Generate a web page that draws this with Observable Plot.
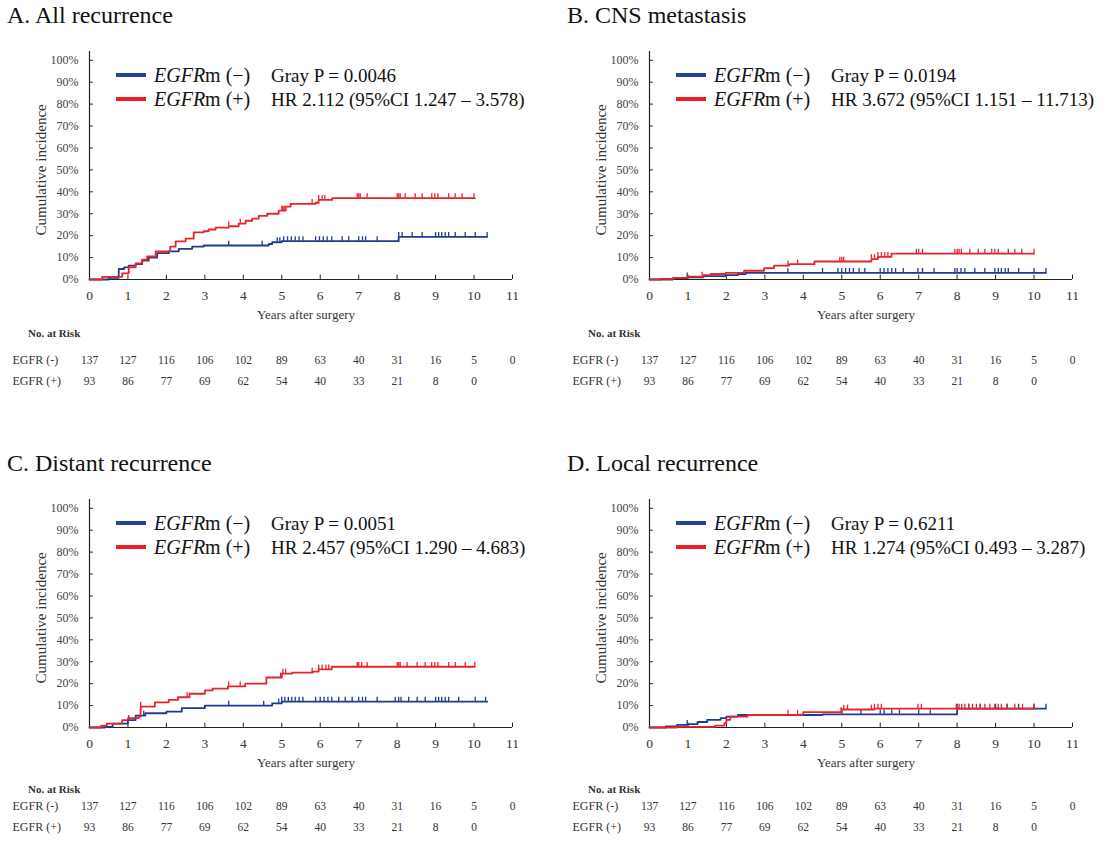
<!DOCTYPE html>
<html><head><meta charset="utf-8">
<script src="https://cdn.jsdelivr.net/npm/d3@7"></script>
<script src="https://cdn.jsdelivr.net/npm/@observablehq/plot@0.6"></script>
<style>
body{margin:0;background:#fff;}
#fig{position:relative;width:1103px;height:841px;overflow:hidden;background:#fff;font-family:"Liberation Serif","Times New Roman",serif;color:#111;}
.t{position:absolute;white-space:nowrap;line-height:1;transform:translateY(-50%);}
.sw{position:absolute;width:30px;height:4px;}
#fig svg{position:absolute;}
</style></head><body><div id="fig"></div>
<script>
// ---- tick labels ----
const years = [0,1,2,3,4,5,6,7,8,9,10,11];
const pctTicks = [0,10,20,30,40,50,60,70,80,90,100];
const riskRowNames = ["EGFR (-)", "EGFR (+)"];
// ---- number at risk ----
const riskNeg = [137,127,116,106,102,89,63,40,31,16,5,0];
const riskPos = [93,86,77,69,62,54,40,33,21,8,0];

// ---- A. All recurrence: [years, cumulative incidence %] ----
const allNeg = [[0,0],[0.5,0.8],[0.76,4.8],[0.9,5.5],[1.02,6.3],[1.2,7.0],[1.37,8.6],[1.54,10.0],[1.76,12.0],[2.06,12.8],[2.32,14.0],[2.67,15.0],[2.97,15.5],[4.66,16.2],[4.75,17.0],[5.0,17.5],[8.04,19.4],[10.34,19.4]];
const allPos = [[0,0],[0.33,1.2],[0.85,2.8],[1.02,5.5],[1.2,7.4],[1.37,9.0],[1.5,10.5],[1.72,12.8],[2.1,15.0],[2.24,17.4],[2.5,18.6],[2.71,21.5],[2.97,22.0],[3.1,22.8],[3.28,23.7],[3.62,24.3],[3.88,25.5],[4.06,26.8],[4.23,27.8],[4.4,29.0],[4.62,30.0],[4.92,31.4],[5.1,33.2],[5.23,34.5],[5.88,35.0],[5.96,36.3],[6.31,37.1],[10.02,37.1]];
const allNegCens = [3.62,4.49,4.88,4.95,5.05,5.15,5.25,5.35,5.45,5.55,5.88,5.98,6.08,6.18,6.3,6.57,6.74,7.0,7.1,7.18,7.48,8.04,8.13,8.39,8.65,9.0,9.08,9.16,9.25,9.34,9.51,9.77,10.03,10.34];
const allPosCens = [3.62,3.92,5.0,5.03,5.06,5.79,5.96,6.05,6.12,6.96,7.0,7.04,7.22,8.0,8.04,8.08,8.21,8.47,8.65,8.9,8.98,9.06,9.34,9.51,9.69,10.0];

// ---- B. CNS metastasis ----
const cnsNeg = [[0,0],[0.6,0.6],[0.98,1.0],[1.4,1.5],[1.98,2.0],[2.3,2.5],[2.5,3.0],[10.31,3.0]];
const cnsPos = [[0,0],[0.3,0.3],[0.63,0.75],[0.98,1.3],[1.4,2.0],[1.59,2.5],[1.98,3.0],[2.46,4.0],[2.98,5.2],[3.24,6.3],[3.63,7.0],[4.29,8.2],[5.77,9.3],[5.94,10.3],[6.29,11.8],[10.0,11.8]];
const cnsNegCens = [0.98,3.6,4.5,4.9,5.0,5.1,5.2,5.3,5.45,5.6,6.0,6.1,6.2,6.3,6.4,6.6,6.98,7.1,7.4,7.94,8.0,8.1,8.2,8.46,8.72,8.98,9.07,9.15,9.25,9.33,9.6,10.0,10.31];
const cnsPosCens = [1.37,3.6,3.85,4.95,5.0,5.05,5.77,5.85,5.94,6.03,6.12,6.2,6.94,7.0,7.1,7.94,8.0,8.05,8.11,8.33,8.55,8.72,8.9,8.98,9.07,9.33,9.5,9.68,10.0];

// ---- C. Distant recurrence ----
const disNeg = [[0,0],[0.4,0.3],[0.6,1.8],[1.0,3.4],[1.2,5.4],[1.45,6.5],[2.0,7.2],[2.4,8.8],[3.0,10.0],[4.75,11.0],[5.0,11.8],[10.34,11.8]];
const disPos = [[0,0],[0.3,0.8],[0.45,1.8],[0.85,3.4],[1.0,4.3],[1.28,5.0],[1.33,9.5],[1.7,11.5],[2.06,12.6],[2.3,13.8],[2.6,15.4],[3.0,16.9],[3.2,17.7],[3.6,18.8],[4.05,20.0],[4.6,22.8],[5.0,24.6],[5.27,25.0],[5.8,25.5],[5.96,26.5],[6.3,27.7],[10.02,27.7]];
const disNegCens = [1.02,1.41,3.62,4.53,4.92,5.0,5.08,5.17,5.26,5.35,5.45,5.55,5.88,6.0,6.1,6.2,6.3,6.48,6.65,6.83,7.0,7.1,7.18,7.48,7.95,8.04,8.1,8.3,8.52,8.73,9.0,9.08,9.16,9.25,9.34,9.6,10.03,10.3];
const disPosCens = [1.33,2.54,3.62,3.92,4.97,5.03,5.1,5.79,5.96,6.05,6.15,6.22,6.96,7.0,7.08,7.22,8.0,8.04,8.08,8.26,8.52,8.73,8.9,8.98,9.06,9.34,9.51,9.77,10.02];

// ---- D. Local recurrence ----
const locNeg = [[0,0],[0.42,0.5],[0.72,1.2],[1.0,1.5],[1.25,2.5],[1.5,3.5],[1.85,4.3],[2.0,5.0],[2.3,5.7],[4.5,6.0],[8.0,8.6],[10.31,8.6]];
const locPos = [[0,0],[0.7,0.3],[1.7,0.9],[1.95,2.0],[2.0,3.5],[2.1,5.0],[2.55,5.7],[3.9,5.9],[4.0,7.0],[5.0,8.2],[5.85,8.6],[10.02,8.6]];
const locNegCens = [0.98,5.0,5.5,6.0,6.1,6.3,6.5,7.0,7.3,8.0,8.3,8.6,9.0,9.3,9.6,10.0,10.31];
const locPosCens = [3.6,3.85,4.98,5.05,5.15,5.77,5.85,5.94,6.03,6.98,7.07,7.98,8.05,8.12,8.2,8.3,8.4,8.5,8.6,8.72,8.85,8.98,9.07,9.15,9.3,9.5,9.7,10.0];

// ---- panel texts ----
const titles = ["A. All recurrence","B. CNS metastasis","C. Distant recurrence","D. Local recurrence"];
const grayP = ["Gray P = 0.0046","Gray P = 0.0194","Gray P = 0.0051","Gray P = 0.6211"];
const hrText = ["HR 2.112 (95%CI 1.247 \u2013 3.578)","HR 3.672 (95%CI 1.151 \u2013 11.713)","HR 2.457 (95%CI 1.290 \u2013 4.683)","HR 1.274 (95%CI 0.493 \u2013 3.287)"];

const BLUE = "#1f3a93", RED = "#e8232a";
const BLUE_SW = "#23409a", RED_SW = "#ee1c25";
const FONT = "'Liberation Serif', 'Times New Roman', serif";

const fig = document.getElementById("fig");
function addText(x, y, html, css) {
  const d = document.createElement("div");
  d.className = "t";
  d.style.left = x + "px"; d.style.top = y + "px";
  d.style.cssText += css || "";
  d.innerHTML = html;
  fig.appendChild(d);
  return d;
}
function stepAt(curve, t) {
  let v = curve[0][1];
  for (const [x, y] of curve) { if (x <= t) v = y; else break; }
  return v;
}
function serifize(svg) {
  svg.setAttribute("font-family", FONT);
  svg.style.fontFamily = FONT;
  svg.querySelectorAll("g, text").forEach(el => {
    if (el.hasAttribute("font-family") || el.tagName === "text") {
      el.setAttribute("font-family", FONT);
      el.style.fontFamily = FONT;
    }
  });
}

const panelDefs = [
  {ox: 0,   oy: 0,   riskLabelY: 333, riskTop: 344, neg: allNeg, pos: allPos, negC: allNegCens, posC: allPosCens},
  {ox: 560, oy: 0,   riskLabelY: 333, riskTop: 344, neg: cnsNeg, pos: cnsPos, negC: cnsNegCens, posC: cnsPosCens},
  {ox: 0,   oy: 448, riskLabelY: 789, riskTop: 790, neg: disNeg, pos: disPos, negC: disNegCens, posC: disPosCens},
  {ox: 560, oy: 448, riskLabelY: 789, riskTop: 790, neg: locNeg, pos: locPos, negC: locNegCens, posC: locPosCens}
];

panelDefs.forEach((p, i) => {
  const {ox, oy} = p;
  // title
  addText(ox + 7, oy + 15, titles[i], "font-size:24px;color:#111;");
  // chart
  const chart = Plot.plot({
    width: 540, height: 290,
    marginLeft: 89, marginRight: 28, marginTop: 11, marginBottom: 51,
    x: {domain: [0, 11]},
    y: {domain: [0, 104]},
    style: {fontFamily: FONT, background: "transparent", color: "#222"},
    marks: [
      Plot.ruleX([0], {stroke: "#222", strokeWidth: 1.2}),
      Plot.ruleY([0], {stroke: "#222", strokeWidth: 1.2}),
      Plot.ruleX(years.slice(1), {x: d => d, y1: 0, y2: 2, stroke: "#222"}),
      Plot.ruleY(pctTicks.slice(1), {y: d => d, x1: 0, x2: 0.1, stroke: "#222"}),
      Plot.axisX({ticks: years, tickSize: 0, tickPadding: 11, fontSize: 13.5, fontFamily: FONT, fill: "#333", label: null, tickFormat: d => String(d)}),
      Plot.axisY({ticks: pctTicks, tickSize: 0, tickPadding: 11, fontSize: 12, fontFamily: FONT, fill: "#444", label: null, tickFormat: d => d + "%"}),
      Plot.text(["Cumulative incidence"], {x: 0, y: 50, dx: -48, rotate: -90, fontSize: 15, fontFamily: FONT, fill: "#333", text: d => d}),
      Plot.line(p.neg, {x: d => d[0], y: d => d[1], curve: "step-after", stroke: BLUE, strokeWidth: 1.8}),
      Plot.ruleX(p.negC, {x: d => d, y1: d => stepAt(p.neg, d), y2: d => stepAt(p.neg, d) + 2, stroke: BLUE, strokeWidth: 1.3}),
      Plot.line(p.pos, {x: d => d[0], y: d => d[1], curve: "step-after", stroke: RED, strokeWidth: 1.8}),
      Plot.ruleX(p.posC, {x: d => d, y1: d => stepAt(p.pos, d), y2: d => stepAt(p.pos, d) + 2, stroke: RED, strokeWidth: 1.3})
    ]
  });
  serifize(chart);
  chart.style.left = ox + "px"; chart.style.top = (oy + 40) + "px";
  fig.appendChild(chart);

  // legend
  const ly1 = oy + 75, ly2 = oy + 99;
  const s1 = document.createElement("div"); s1.className = "sw";
  s1.style.cssText += `left:${ox+116}px;top:${ly1-2}px;background:${BLUE_SW};`;
  const s2 = document.createElement("div"); s2.className = "sw";
  s2.style.cssText += `left:${ox+116}px;top:${ly2-2}px;background:${RED_SW};`;
  fig.appendChild(s1); fig.appendChild(s2);
  addText(ox + 154, ly1, "<i>EGFR</i>m (\u2212)", "font-size:20px;");
  addText(ox + 154, ly2, "<i>EGFR</i>m (+)", "font-size:20px;");
  addText(ox + 271, ly1, grayP[i], "font-size:19px;");
  addText(ox + 271, ly2, hrText[i], "font-size:19px;");

  // axis title
  const yas = addText(ox + 306, oy + 314, "Years after surgery", "font-size:13px;color:#333;");
  yas.style.transform = "translate(-50%,-50%)";
  addText(ox + 28, p.riskLabelY, "No. at Risk", "font-size:11px;font-weight:bold;color:#333;");

  // risk table
  const riskData = [
    ...riskNeg.map((n, k) => ({t: years[k], row: riskRowNames[0], n})),
    ...riskPos.map((n, k) => ({t: years[k], row: riskRowNames[1], n}))
  ];
  const risk = Plot.plot({
    width: 540, height: 50,
    marginLeft: 89, marginRight: 28, marginTop: 16, marginBottom: 13,
    x: {domain: [0, 11], axis: null},
    y: {type: "point", domain: riskRowNames, padding: 0, axis: null},
    style: {fontFamily: FONT, background: "transparent"},
    marks: [
      Plot.text(riskRowNames, {x: 0, y: d => d, dx: -77, textAnchor: "start", fontSize: 12, fontFamily: FONT, fill: "#333", text: d => d}),
      Plot.text(riskData, {x: "t", y: "row", text: d => String(d.n), fontSize: 11.5, fontFamily: FONT, fill: "#333"})
    ]
  });
  serifize(risk);
  risk.style.left = ox + "px"; risk.style.top = p.riskTop + "px";
  fig.appendChild(risk);
});
</script></body></html>
